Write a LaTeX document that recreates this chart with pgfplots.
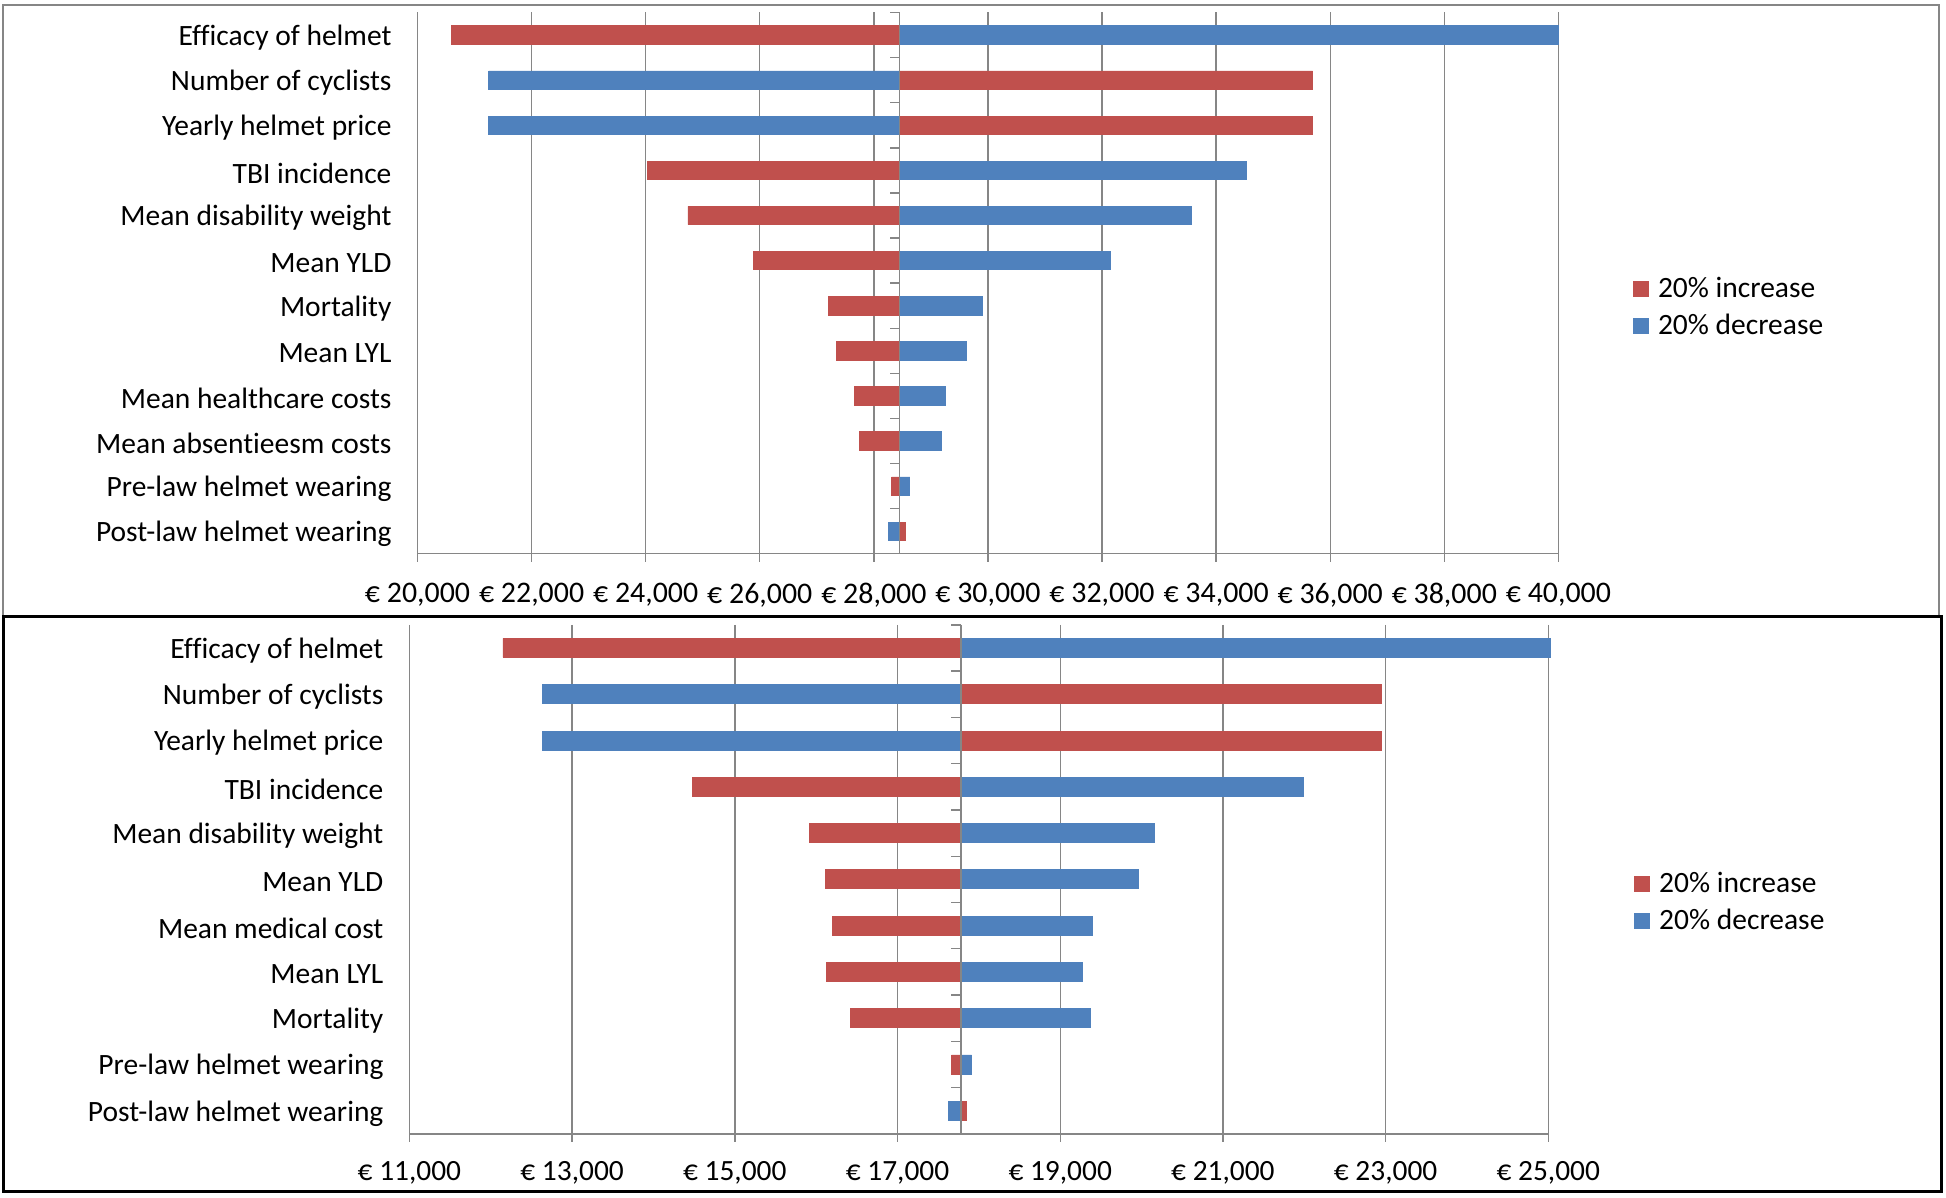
\documentclass[border=0pt]{standalone}
\usepackage{fontspec}
\setmainfont{Carlito}[Ligatures=NoCommon]
\usepackage{pgfplots}
\pgfplotsset{compat=1.18}
\definecolor{incr}{HTML}{C0504D}
\definecolor{decr}{HTML}{4F81BD}
\definecolor{gridc}{RGB}{134,134,134}
\newcommand{\lblfont}{\fontsize{14.8}{17}\selectfont}
\pgfplotsset{tornado/.style={
  scale only axis, xbar, bar shift=0pt, y dir=reverse,
  enlargelimits=false, scaled x ticks=false,
  axis x line*=bottom, axis y line*=left,
  y axis line style={draw=none}, x axis line style={gridc, line width=0.7bp},
  ytick style={draw=none},
  xtick style={gridc, line width=0.7bp}, tick align=outside, major tick length=4bp,
  xmajorgrids, major grid style={gridc, line width=0.7bp},
  yticklabel style={font=\lblfont, xshift=-5.5bp, yshift=-1.3bp},
  legend style={draw=none, fill=none, font=\lblfont, anchor=west, row sep=3bp, column sep=2.5bp, cells={anchor=west}},
  legend image code/.code={\draw[##1] (0bp,-3.75bp) rectangle (7.5bp,3.75bp);},
  clip=false,
}}
\begin{document}
\begin{tikzpicture}
\path[use as bounding box] (0,0) rectangle (973bp,599bp);
% ---------- top panel ----------
\begin{axis}[tornado,
  at={(208.75bp,322.1bp)}, anchor=south west,
  width=570.45bp, height=270.65bp,
  x filter/.expression={x-28450},
  xmin=-8450, xmax=11550,
  xtick={-8450,-6450,-4450,-2450,-450,1550,3550,5550,7550,9550,11550},
  xticklabels={{€ 20,000},{€ 22,000},{€ 24,000},{€ 26,000},{€ 28,000},{€ 30,000},{€ 32,000},{€ 34,000},{€ 36,000},{€ 38,000},{€ 40,000}},
  xticklabel style={font=\fontsize{15}{17}\selectfont, yshift=-7.3bp},
  ymin=0.5, ymax=12.5,
  ytick={1,2,3,4,5,6,7,8,9,10,11,12},
  yticklabels={Efficacy of helmet,Number of cyclists,Yearly helmet price,TBI incidence,Mean disability weight,Mean YLD,Mortality,Mean LYL,Mean healthcare costs,Mean absentieesm costs,Pre-law helmet wearing,Post-law helmet wearing},
  bar width=9.2bp,
  legend style={at={(1.06,0.455)}},
]
\addplot[fill=incr, draw=incr] coordinates {
 (20600,1) (35690,2) (35690,3) (24030,4) (24740,5) (25890,6)
 (27200,7) (27350,8) (27660,9) (27750,10) (28310,11) (28560,12)};
\addlegendentry{20\% increase}
\addplot[fill=decr, draw=decr] coordinates {
 (40000,1) (21250,2) (21250,3) (34530,4) (33570,5) (32140,6)
 (29910,7) (29630,8) (29260,9) (29180,10) (28630,11) (28260,12)};
\addlegendentry{20\% decrease}
\draw[gridc, line width=0.7bp] (axis cs:0,0.5) -- (axis cs:0,12.5);
\pgfplotsinvokeforeach{0.5,1.5,2.5,3.5,4.5,5.5,6.5,7.5,8.5,9.5,10.5,11.5}{
  \draw[gridc, line width=0.7bp] (axis cs:0,#1) -- ++(-5bp,0bp);
}
\end{axis}
% ---------- bottom panel ----------
\begin{axis}[tornado,
  at={(204.7bp,32.05bp)}, anchor=south west,
  width=569.45bp, height=254.55bp,
  x filter/.expression={x-17780},
  xmin=-6780, xmax=7220,
  xtick={-6780,-4780,-2780,-780,1220,3220,5220,7220},
  xticklabels={{€ 11,000},{€ 13,000},{€ 15,000},{€ 17,000},{€ 19,000},{€ 21,000},{€ 23,000},{€ 25,000}},
  xticklabel style={font=\fontsize{14.75}{17}\selectfont, yshift=-6bp},
  ymin=0.5, ymax=11.5,
  ytick={1,2,3,4,5,6,7,8,9,10,11},
  yticklabels={Efficacy of helmet,Number of cyclists,Yearly helmet price,TBI incidence,Mean disability weight,Mean YLD,Mean medical cost,Mean LYL,Mortality,Pre-law helmet wearing,Post-law helmet wearing},
  bar width=9.5bp,
  legend style={at={(1.07,0.455)}},
]
\addplot[fill=incr, draw=incr] coordinates {
 (12150,1) (22950,2) (22950,3) (14480,4) (15920,5) (16110,6)
 (16200,7) (16130,8) (16420,9) (17665,10) (17850,11)};
\addlegendentry{20\% increase}
\addplot[fill=decr, draw=decr] coordinates {
 (25020,1) (12630,2) (12630,3) (21990,4) (20160,5) (19960,6)
 (19390,7) (19270,8) (19370,9) (17910,10) (17630,11)};
\addlegendentry{20\% decrease}
\draw[gridc, line width=0.7bp] (axis cs:0,0.5) -- (axis cs:0,11.5);
\pgfplotsinvokeforeach{0.5,1.5,2.5,3.5,4.5,5.5,6.5,7.5,8.5,9.5,10.5}{
  \draw[gridc, line width=0.7bp] (axis cs:0,#1) -- ++(-5bp,0bp);
}
\end{axis}
% ---------- panel frames ----------
\draw[gridc, line width=1bp] (1.25bp,291bp) rectangle (969.5bp,596.5bp);
\draw[black, line width=1.5bp] (1.5bp,3bp) rectangle (970.75bp,290.5bp);
\end{tikzpicture}
\end{document}
